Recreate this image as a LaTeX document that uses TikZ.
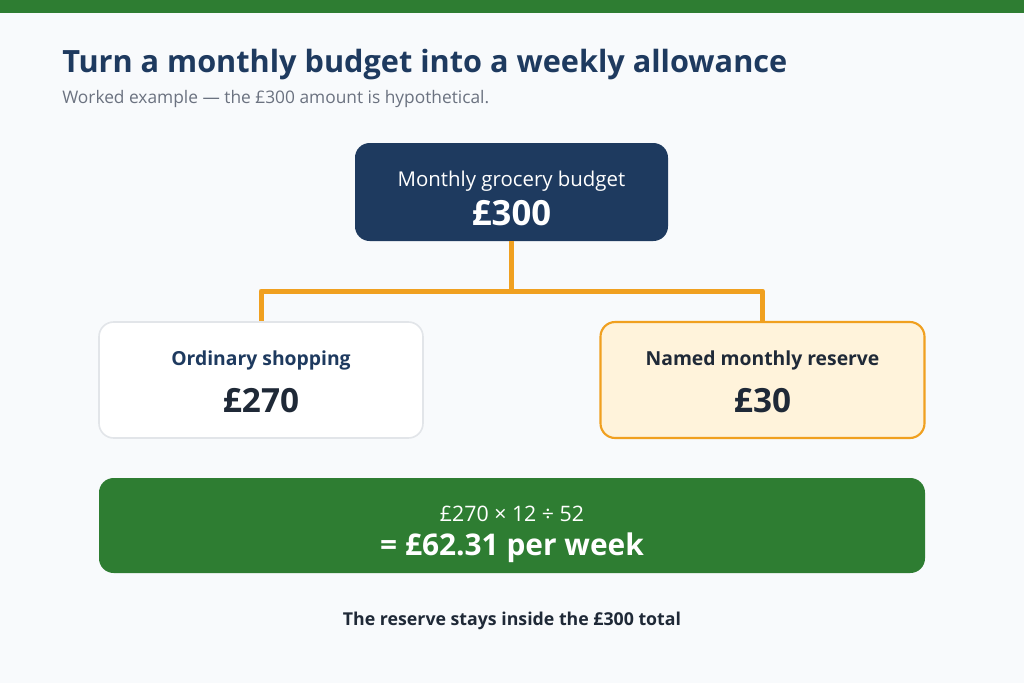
\documentclass[tikz,border=0pt]{standalone}
\usepackage{fontspec}
\setmainfont{Open Sans}
\usetikzlibrary{calc,positioning}
\definecolor{navy}{HTML}{1E3A5F}
\definecolor{leafgreen}{HTML}{2E7D32}
\definecolor{amber}{HTML}{F0A020}
\definecolor{cream}{HTML}{FFF3DB}
\definecolor{ink}{HTML}{1F2937}
\definecolor{slate}{HTML}{6B7280}
\definecolor{rim}{HTML}{E2E5E9}
\definecolor{paper}{HTML}{F8FAFC}

\begin{document}
\begin{tikzpicture}[x=0.75pt,y=-0.75pt,
    card/.style={rounded corners=11pt,align=center,inner sep=0pt},
    link/.style={draw=amber,line width=3.75pt,line join=round}]
                \useasboundingbox (0,0) rectangle (1024,683);
                \fill[paper] (0,0) rectangle (1024,683);
                \fill[leafgreen] (0,0) rectangle (1024,13);

                \node[anchor=base west,inner sep=0pt,text=navy,font={\bfseries\fontsize{23}{27}\selectfont}] (title) at (62,72) {Turn a monthly budget into a weekly allowance};
                \node[anchor=base west,inner sep=0pt,text=slate,font={\fontsize{13}{15}\selectfont}] (subtitle) at (62,103) {Worked example — the £300 amount is hypothetical.};

                \node[card,fill=navy,text=white,minimum width=234.75pt,minimum height=73.5pt,font={\fontsize{15.3}{29}\selectfont}] (budget) at (511.5,192) {
                    \rule{0pt}{21.5pt}Monthly grocery budget\\
                    {\bfseries\fontsize{26}{28}\selectfont £300}
                };

                \node[card,fill=white,draw=rim,line width=1.2pt,minimum width=243pt,minimum height=87pt,font={\fontsize{14.5}{35}\selectfont}] (ordinary) at (261,380) {
                    \rule{0pt}{14pt}{\bfseries\color{navy}Ordinary shopping}\\
                    {\bfseries\color{ink}\fontsize{25}{28}\selectfont £270}
                };

                \node[card,fill=cream,draw=amber,line width=1.6pt,minimum width=243pt,minimum height=87pt,font={\fontsize{14.5}{35}\selectfont}] (reserve) at (762.5,380) {
                    \rule{0pt}{14pt}{\bfseries\color{ink}Named monthly reserve}\\
                    {\bfseries\color{ink}\fontsize{25}{28}\selectfont £30}
                };

                \node[card,fill=leafgreen,text=white,minimum width=619.5pt,minimum height=71.25pt,font={\fontsize{16}{25.5}\selectfont}] (weekly) at (512,525.5) {
                    \rule{0pt}{25pt}£270 × 12 ÷ 52\\
                    {\bfseries\fontsize{22.4}{25}\selectfont = £62.31 per week}
                };

                \node[text=ink,font={\bfseries\fontsize{13.3}{16}\selectfont}] (note) at (512,621) {The reserve stays inside the £300 total};

                \coordinate (split) at (511.5,291);
                \draw[link] (budget.south) -- (split);
                \draw[link] (split) -| (ordinary.north);
                \draw[link] (split) -| (reserve.north);
            \end{tikzpicture}
\end{document}
